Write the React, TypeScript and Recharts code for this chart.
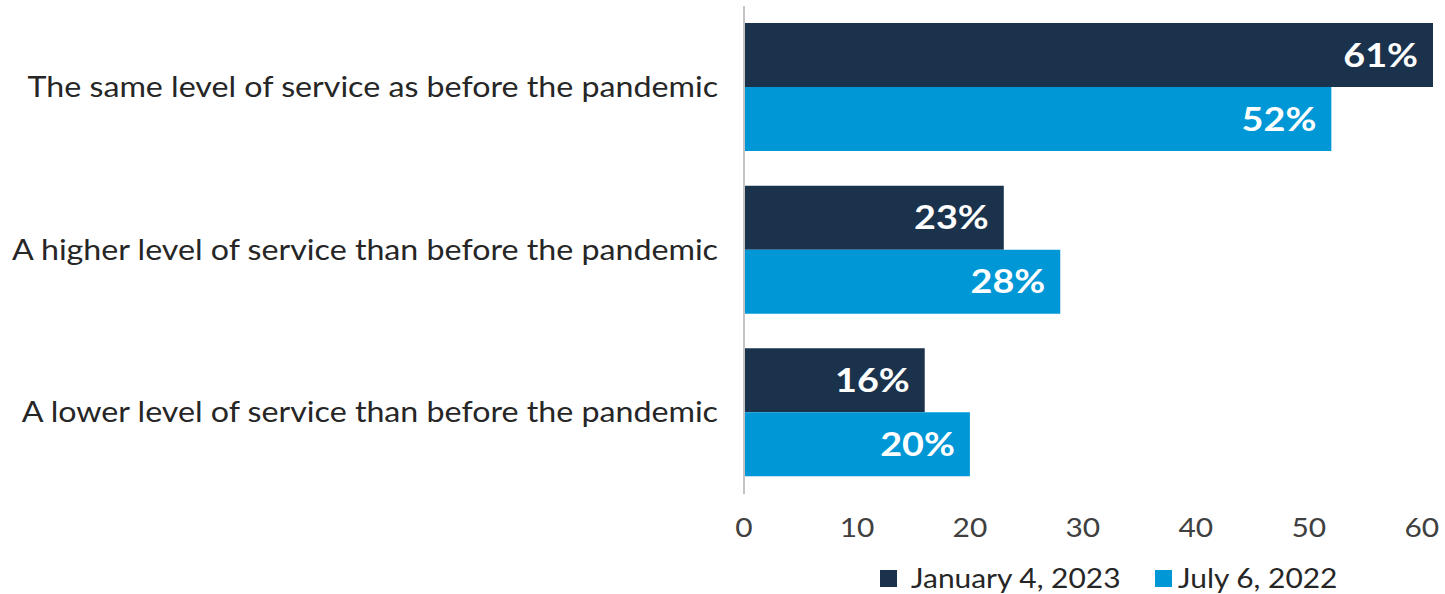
import { Bar, BarChart, LabelList, XAxis, YAxis } from "recharts";

const CATEGORIES = [
  "The same level of service as before the pandemic",
  "A higher level of service than before the pandemic",
  "A lower level of service than before the pandemic",
];
const JAN_2023 = [61, 23, 16];
const JUL_2022 = [52, 28, 20];
const X_TICKS = [0, 10, 20, 30, 40, 50, 60];

const SERIES = [
  { key: "jan", name: "January 4, 2023", color: "#1b324d" },
  { key: "jul", name: "July 6, 2022", color: "#0097d6" },
];

const FONT = "Lato, 'Noto Sans', sans-serif";
// the typeface is set a little wide
const STRETCH = 1.15;

const data = CATEGORIES.map((label, i) => ({
  label,
  jan: JAN_2023[i],
  jul: JUL_2022[i],
}));

const CategoryTick = (props: any) => {
  const { x, y, payload } = props;
  return (
    <g transform={`translate(${x},${y}) scale(${STRETCH},1)`}>
      <text x={0} y={0} dy="0.35em" textAnchor="end" fontSize={28} fill="#262626" fontFamily={FONT}>
        {payload.value}
      </text>
    </g>
  );
};

const ValueTick = (props: any) => {
  const { x, y, payload } = props;
  return (
    <g transform={`translate(${x},${y}) scale(${STRETCH},1)`}>
      <text x={0} y={0} dy="0.71em" textAnchor="middle" fontSize={26} fill="#404040" fontFamily={FONT}>
        {payload.value}
      </text>
    </g>
  );
};

const BarValue = (props: any) => {
  const { x, y, width, height, value } = props;
  const tx = Number(x) + Number(width) - 15;
  const ty = Number(y) + Number(height) / 2;
  return (
    <g transform={`translate(${tx},${ty}) scale(1.18,1)`}>
      <text x={0} y={0} dy="0.36em" textAnchor="end" fontSize={32} fontWeight={700} fill="#ffffff" fontFamily={FONT}>
        {`${value}%`}
      </text>
    </g>
  );
};

export default function App() {
  return (
    <div style={{ position: "absolute", left: 0, top: 0, width: 1445, height: 594, fontFamily: FONT }}>
      <BarChart
        width={1445}
        height={594}
        data={data}
        layout="vertical"
        margin={{ top: 6, right: 12, left: 0, bottom: 40 }}
        barCategoryGap={17}
        barGap={0}
      >
        <XAxis
          type="number"
          domain={[0, 61]}
          ticks={X_TICKS}
          axisLine={false}
          tickLine={false}
          tickSize={0}
          tickMargin={25}
          height={60}
          tick={<ValueTick />}
        />
        <YAxis
          type="category"
          dataKey="label"
          width={744}
          axisLine={{ stroke: "#c4c4c4", strokeWidth: 2 }}
          tickLine={false}
          tickSize={0}
          tickMargin={26}
          tick={<CategoryTick />}
        />
        {SERIES.map((s) => (
          <Bar key={s.key} dataKey={s.key} name={s.name} fill={s.color} isAnimationActive={false}>
            <LabelList dataKey={s.key} content={<BarValue />} />
          </Bar>
        ))}
      </BarChart>
      <div
        style={{
          position: "absolute",
          left: 880,
          top: 562,
          display: "flex",
          alignItems: "center",
          fontSize: 26,
          color: "#262626",
          whiteSpace: "nowrap",
        }}
      >
        {SERIES.map((s, i) => (
          <div key={s.key} style={{ display: "flex", alignItems: "center", width: i === 0 ? 275 : 180 }}>
            <span style={{ display: "inline-block", width: 17, height: 17, background: s.color, marginRight: i === 0 ? 14 : 6 }} />
            <span style={{ lineHeight: "32px", display: "inline-block", transform: `scale(${STRETCH},1)`, transformOrigin: "left center" }}>
              {s.name}
            </span>
          </div>
        ))}
      </div>
    </div>
  );
}
